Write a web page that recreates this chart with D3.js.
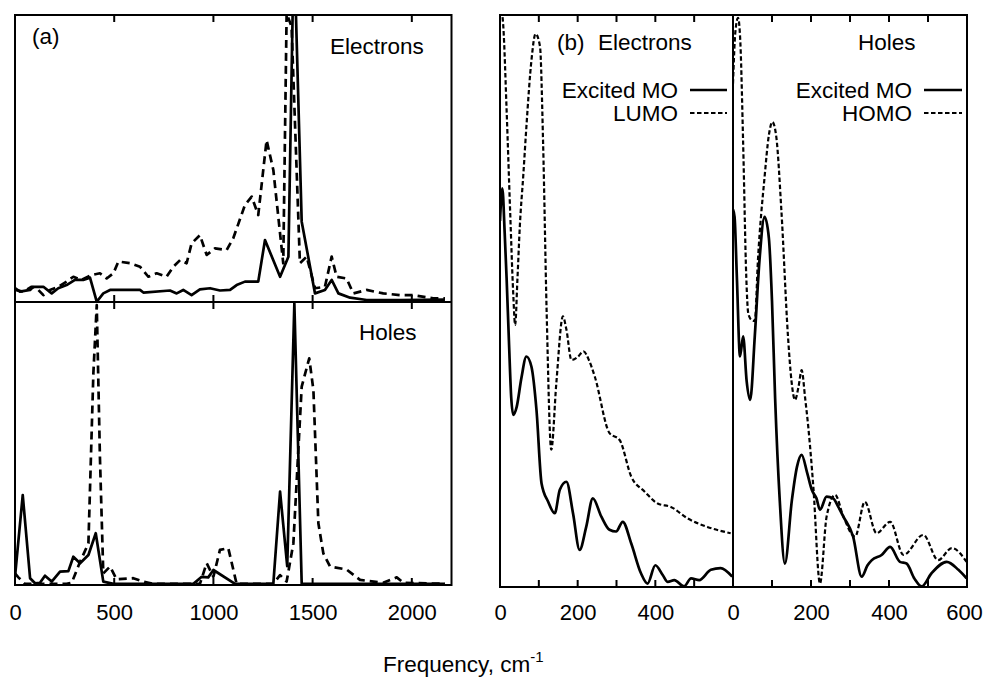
<!DOCTYPE html>
<html>
<head>
<meta charset="utf-8">
<script src="https://cdn.jsdelivr.net/npm/d3@7"></script>
<style>
body { margin: 0; background: #fff; }
svg text { font-family: "Liberation Sans", Arial, sans-serif; font-size: 22.5px; fill: #000; }
</style>
</head>
<body>
<script>
// [frequency (cm-1), intensity (arb., 100 = top of frame)]

// panel (a), electrons
const elecExcitedA = [[0,4.8],[25,3.6],[76,4.2],[92,5.3],[143,5.3],[185,3.0],[218,4.8],[260,5.9],[302,7.7],[344,7.7],[378,8.5],[412,0.1],[445,3.0],[479,4.2],[630,4.2],[647,3.3],[781,4.0],[815,3.0],[848,4.2],[890,2.4],[932,4.4],[983,4.8],[1033,4.0],[1084,4.2],[1117,5.9],[1159,7.1],[1226,7.1],[1260,21.6],[1336,8.8],[1378,15.8],[1403,115],[1410,115],[1445,28.0],[1512,3.0],[1562,4.2],[1596,7.7],[1630,3.0],[1689,1.5],[1772,0.7],[1940,0.7],[2167,0.8]];
const elecLumoA = [[0,4.2],[42,3.6],[84,5.3],[109,4.8],[143,2.4],[176,4.2],[218,5.3],[260,7.1],[294,8.8],[336,7.7],[386,9.4],[428,10.0],[462,8.2],[496,10.0],[521,14.1],[580,13.5],[630,12.3],[672,8.8],[714,10.0],[764,8.8],[798,12.3],[832,14.6],[865,13.5],[890,20.4],[932,23.3],[966,16.4],[1008,18.7],[1067,18.1],[1100,22.2],[1159,33.8],[1193,36.7],[1226,30.3],[1268,56.4],[1302,46.0],[1327,29.7],[1352,13.5],[1369,100.6],[1394,95.9],[1436,13.5],[1470,15.8],[1512,4.8],[1562,5.3],[1596,15.8],[1621,8.8],[1671,8.2],[1705,3.0],[1772,4.2],[1856,3.0],[1940,2.4],[2007,2.4],[2108,1.3],[2167,1.3]];

// panel (a), holes
const holesExcitedA = [[0,2.9],[39,31.8],[76,2.4],[101,0.6],[126,0.8],[151,3.3],[185,1.2],[227,4.7],[269,4.9],[294,10.0],[328,7.7],[370,10.6],[407,18.3],[445,1.2],[496,0.4],[899,0.4],[941,2.9],[974,2.7],[1000,5.3],[1109,0.4],[1302,0.4],[1336,33.0],[1372,6.7],[1408,99.5],[1445,0.4],[2167,0.4]];
const holesHomoA = [[0,4.1],[17,2.7],[50,0.4],[176,0.4],[260,0.4],[286,0.8],[328,8.2],[370,14.7],[395,74.8],[412,98.9],[428,45.3],[445,4.1],[479,6.5],[512,2.0],[596,2.4],[647,1.2],[697,0.4],[932,0.4],[966,7.7],[1000,2.9],[1033,12.4],[1075,13.0],[1117,0.4],[1302,0.4],[1336,3.5],[1369,1.2],[1403,14.7],[1445,70.1],[1483,80.1],[1504,68.9],[1529,21.8],[1554,11.2],[1588,6.5],[1671,5.5],[1739,1.8],[1856,0.8],[1924,2.7],[1957,0.8],[2167,0.4]];

// panel (b), electrons
const elecExcitedB = [[0,64],[6,69.7],[12,62],[17,54],[23,43],[29,33],[34,30.1],[43,31.5],[55,36.5],[68,40.3],[81,38.5],[94,30.9],[107,18.1],[124,14.9],[141,12.9],[154,17.0],[171,18.4],[188,12.9],[205,6.5],[222,10.5],[239,15.5],[261,12.3],[282,10.0],[299,9.7],[316,11.4],[338,7.6],[363,2.4],[380,0.6],[400,3.8],[419,2.1],[432,0.9],[449,1.2],[474,0.1],[492,1.5],[513,1.2],[543,3.0],[568,3.3],[598,1.8]];
const elecLumoB = [[0,102],[4,101],[8.5,98],[17,83.4],[26,65.9],[34,51.4],[39,45.8],[45,54],[51,63],[60,72],[68,80.5],[81,92.1],[91.5,96.7],[103,94.5],[111,77.6],[120,48.4],[132,24.0],[145,35.6],[162,47.3],[171,45],[184,39.7],[200,40.2],[215,41.2],[230,39.5],[244,36.8],[282,26.9],[308,25.7],[338,19.3],[372,16.7],[406,14.6],[440,14.0],[483,12.0],[534,10.5],[594,9.4]];

// panel (b), holes
const holesExcitedB = [[0,66],[4,64.7],[10,54],[18,40.3],[26,43.8],[35,36],[44,32.7],[56,44],[68,57.2],[81,64.7],[92,61],[100,50],[108,33],[120,15],[133,4.1],[151,15.2],[164,21],[176,23.1],[190,20],[202,17.0],[214,15.5],[223,13.5],[240,15.8],[257,15.5],[270,14],[283,12.3],[308,8.8],[330,1.8],[345,3.8],[356,4.7],[381,5.6],[403,7.0],[428,4.4],[445,4.1],[465,1.5],[484,0.1],[509,2.4],[548,4.4],[578,3.0],[599,1.5]];
const holesHomoB = [[0,88],[6,97],[13,99.5],[19,95],[26,77.6],[34,54.3],[39,47.9],[47,46.7],[56,46.5],[64,57.2],[81,71.7],[92,79],[101,81.3],[111,78.7],[124,65.9],[141,43.8],[150,36],[159,32.7],[168,35],[176,37.9],[185,33],[193,28.0],[206,17.5],[223,0.6],[240,12.3],[262,16.1],[283,12.3],[313,8.8],[338,14.9],[368,9.4],[403,11.4],[437,5.6],[488,9.1],[526,4.7],[561,6.8],[599,4.4]];

const ticksA = [500, 1000, 1500, 2000];
const labelsA = [0, 500, 1000, 1500, 2000];
const ticksB = [100, 200, 300, 400, 500];
const labelsBLeft = [0, 200, 400];
const labelsBRight = [0, 200, 400, 600];

const svg = d3.select("body").append("svg").attr("width", 984).attr("height", 680);

function addClip(id, x0, y0, x1, y1) {
    svg.append("clipPath").attr("id", id)
        .append("rect").attr("x", x0).attr("y", y0).attr("width", x1 - x0).attr("height", y1 - y0);
}

function drawLine(data, scaleX, scaleY, clip, dash, width, curve) {
    let line = d3.line().x(d => scaleX(d[0])).y(d => scaleY(d[1])).curve(curve);
    svg.append("path")
        .datum(data)
        .attr("clip-path", `url(#${clip})`)
        .attr("fill", "none")
        .attr("stroke", "#000")
        .attr("stroke-width", width)
        .attr("stroke-linejoin", "round")
        .attr("stroke-dasharray", dash)
        .attr("d", line);
}

// inward tick marks: dir = +1 points down, -1 points up
function tickRow(scale, values, y, dir) {
    svg.append("g").selectAll("line").data(values).enter().append("line")
        .attr("x1", d => scale(d)).attr("x2", d => scale(d))
        .attr("y1", y).attr("y2", y + dir * 7)
        .attr("stroke", "#000").attr("stroke-width", 2);
}

function labelRow(scale, values, y, pad) {
    let g = svg.append("g")
        .attr("transform", `translate(0, ${y})`)
        .call(d3.axisBottom(scale).tickValues(values).tickSize(0).tickPadding(pad).tickFormat(d3.format("d")));
    g.select(".domain").remove();
    g.selectAll("text").attr("fill", "#000").style("font-size", "22px")
        .style("font-family", '"Liberation Sans", Arial, sans-serif');
    return g;
}

function frame(x0, y0, x1, y1) {
    svg.append("rect").attr("x", x0).attr("y", y0).attr("width", x1 - x0).attr("height", y1 - y0)
        .attr("fill", "none").attr("stroke", "#000").attr("stroke-width", 2);
}

function label(txt, x, y, anchor) {
    svg.append("text").attr("x", x).attr("y", y).attr("text-anchor", anchor || "start").text(txt);
}

// ---------- panel (a) ----------
let xA = d3.scaleLinear([0, 2200], [15, 451.5]);
let yTop = d3.scaleLinear([0, 100], [302, 15]);
let yBot = d3.scaleLinear([0, 100], [585, 302]);
addClip("clipAT", 15, 15, 451.5, 302);
addClip("clipAB", 15, 302, 451.5, 585);

drawLine(elecLumoA, xA, yTop, "clipAT", "8,5", 2.7, d3.curveLinear);
drawLine(elecExcitedA, xA, yTop, "clipAT", null, 2.7, d3.curveLinear);
drawLine(holesHomoA, xA, yBot, "clipAB", "8,5", 2.7, d3.curveLinear);
drawLine(holesExcitedA, xA, yBot, "clipAB", null, 2.7, d3.curveLinear);

frame(15, 15, 451.5, 585);
svg.append("line").attr("x1", 15).attr("x2", 451.5).attr("y1", 302).attr("y2", 302)
    .attr("stroke", "#000").attr("stroke-width", 2);
tickRow(xA, ticksA, 15, 1);
tickRow(xA, ticksA, 302, -1);
tickRow(xA, ticksA, 302, 1);
tickRow(xA, ticksA, 585, -1);
labelRow(xA, labelsA, 585, 19);

label("(a)", 32, 44);
label("Electrons", 330, 54);
label("Holes", 359, 340);

// ---------- panel (b) ----------
let xBL = d3.scaleLinear([0, 600], [500, 733]);
let xBR = d3.scaleLinear([0, 600], [733, 967]);
let yB = d3.scaleLinear([0, 100], [587, 15]);
addClip("clipBL", 500, 15, 733, 587);
addClip("clipBR", 733, 15, 967, 587);

drawLine(elecLumoB, xBL, yB, "clipBL", "4.5,2.5", 2.2, d3.curveMonotoneX);
drawLine(elecExcitedB, xBL, yB, "clipBL", null, 2.7, d3.curveMonotoneX);
drawLine(holesHomoB, xBR, yB, "clipBR", "4.5,2.5", 2.2, d3.curveMonotoneX);
drawLine(holesExcitedB, xBR, yB, "clipBR", null, 2.7, d3.curveMonotoneX);

frame(500, 15, 967, 587);
svg.append("line").attr("x1", 733).attr("x2", 733).attr("y1", 15).attr("y2", 587)
    .attr("stroke", "#000").attr("stroke-width", 2);
tickRow(xBL, ticksB, 15, 1);
tickRow(xBR, ticksB, 15, 1);
tickRow(xBL, ticksB, 587, -1);
tickRow(xBR, ticksB, 587, -1);
labelRow(xBL, labelsBLeft, 587, 17);
labelRow(xBR, labelsBRight, 587, 17)
    .selectAll("text").filter(d => d === 600).attr("dx", -3);

label("(b)", 557, 50);
label("Electrons", 598, 50);
label("Holes", 858, 50);

// legends
function legend(name, textX, lineX0, lineX1, y, dash, width) {
    label(name, textX, y + 8, "end");
    svg.append("line").attr("x1", lineX0).attr("x2", lineX1).attr("y1", y).attr("y2", y)
        .attr("stroke", "#000").attr("stroke-width", width).attr("stroke-dasharray", dash);
}
legend("Excited MO", 678, 690, 727, 90, null, 2.5);
legend("LUMO", 678, 690, 727, 113, "4.5,2.5", 2);
legend("Excited MO", 912, 924, 962, 90, null, 2.5);
legend("HOMO", 912, 924, 962, 113, "4.5,2.5", 2);

// x title
let title = svg.append("text").attr("x", 383).attr("y", 672);
title.append("tspan").text("Frequency, cm");
title.append("tspan").attr("dy", -10).style("font-size", "15px").text("-1");
</script>
</body>
</html>
